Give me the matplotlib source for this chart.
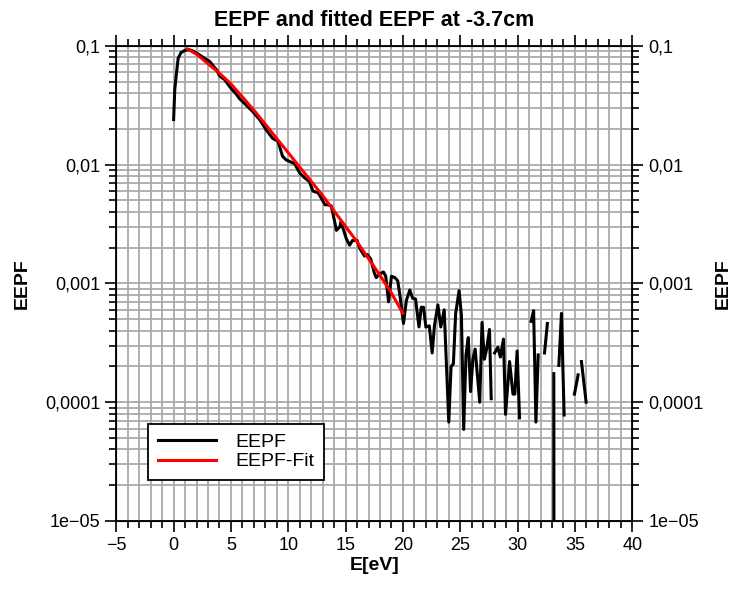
import numpy as np
import matplotlib
matplotlib.use("Agg")
import matplotlib.pyplot as plt
from matplotlib.ticker import MultipleLocator, LogLocator, FixedLocator, FixedFormatter

plt.rcParams['font.family'] = ['Liberation Sans', 'DejaVu Sans']

# measured EEPF (nan = negative / missing value)
energy = [0.0, 0.1, 0.25, 0.4, 0.65, 1.0, 1.35, 1.75, 2.25, 2.75, 3.15, 3.5, 3.75, 4.0,
          4.45, 5.0, 5.4, 5.75, 6.3, 6.9, 7.5, 8.1, 8.65, 9.1, 9.5, 9.8, 10.55, 11.0,
          11.4, 11.85, 12.15, 12.6, 12.9, 13.2, 13.45, 13.75, 14.05, 14.2, 14.5, 14.6,
          15.05, 15.35, 15.6, 16.0, 16.2, 16.65, 16.9, 17.2, 17.5, 17.67, 17.95, 18.3,
          18.5, 18.75, 19.0, 19.3, 19.55, 19.75, 20.05, 20.3, 20.6, 20.85, 21.1, 21.4,
          21.6, 21.8, 22.0, 22.3, 22.55, 22.75, 23.05, 23.3, 23.6, 24.0, 24.2, 24.4,
          24.6, 24.9, 25.1, 25.3, 25.5, 25.7, 25.9, 26.1, 26.3, 26.7, 26.9, 27.1, 27.3,
          27.55, 27.7, 27.85, 28.0, 28.28, 28.5, 28.77, 28.95, 29.3, 29.6, 29.76, 29.96,
          30.17, 30.6, 31.18, 31.4, 31.6, 31.8, 32.1, 32.35, 32.6, 32.9, 33.16, 33.2,
          33.4, 33.6, 33.83, 34.06, 34.5, 34.96, 35.28, 35.42, 35.57, 35.98]
eepf = [0.024, 0.043, 0.059, 0.079, 0.088, 0.092, 0.093, 0.090, 0.084, 0.078, 0.074,
        0.067, 0.063, 0.056, 0.052, 0.044, 0.040, 0.036, 0.032, 0.028, 0.024, 0.0195,
        0.0166, 0.0158, 0.0118, 0.0110, 0.0102, 0.0085, 0.0078, 0.0072, 0.0060, 0.0058,
        0.0052, 0.0046, 0.0046, 0.0045, 0.0033, 0.0028, 0.0030, 0.0033, 0.0024, 0.0021,
        0.0023, 0.0023, 0.0020, 0.0017, 0.00175, 0.0016, 0.00123, 0.00112, 0.0012,
        0.00125, 0.00115, 0.00070, 0.00115, 0.00112, 0.00105, 0.00078, 0.00046, 0.00072,
        0.00088, 0.00075, 0.00074, 0.00043, 0.00063, 0.00063, 0.00043, 0.00044, 0.00026,
        0.00044, 0.00066, 0.00043, 0.00060, 0.000068, 0.00020, 0.00021, 0.00056, 0.00087,
        0.00054, 0.000059, 0.00025, 0.00035, 0.000123, 0.00023, 0.00028, 0.00010, 0.00047,
        0.00023, 0.00028, 0.00041, 0.000107, np.nan, 0.00026, 0.00029, 0.00024, 0.00034,
        0.000079, 0.00022, 0.000117, 0.000117, 0.00027, 0.000074, np.nan, 0.00048, 0.00059,
        0.000068, 0.00025, np.nan, 0.00026, 0.00046, np.nan, 0.000174, 1e-9, np.nan,
        0.000204, 0.00056, 0.000078, np.nan, 0.000117, 0.00017, np.nan, 0.00022, 0.000100]

# fitted EEPF
fit_energy = [1.2, 2, 3, 4, 5, 6, 7, 8, 9, 10, 11, 12, 13, 14, 15, 16, 17, 18, 19, 20]
fit_eepf = [0.0944, 0.0851, 0.0708, 0.0589, 0.0479, 0.0372, 0.0288, 0.0219, 0.0166,
            0.0126, 0.00955, 0.00724, 0.00550, 0.00407, 0.00302, 0.00224, 0.00162,
            0.00117, 0.00083, 0.00056]

ytick_vals = [1e-5, 1e-4, 1e-3, 1e-2, 1e-1]
ytick_labels = ['1e\u221205', '0,0001', '0,001', '0,01', '0,1']

fig = plt.figure(figsize=(7.36, 5.89), dpi=100)
ax = fig.add_axes([0.158, 0.1155, 0.701, 0.8065])

ax.plot(energy, eepf, color='black', lw=2.2, label='EEPF')
ax.plot(fit_energy, fit_eepf, color='#ff0000', lw=2.2, label='EEPF-Fit')

ax.set_yscale('log')
ax.set_xlim(-5, 40)
ax.set_ylim(1e-5, 0.1)
ax.xaxis.set_major_locator(MultipleLocator(5))
ax.xaxis.set_minor_locator(MultipleLocator(1))
ax.yaxis.set_major_locator(FixedLocator(ytick_vals))
ax.yaxis.set_major_formatter(FixedFormatter(ytick_labels))
ax.yaxis.set_minor_locator(LogLocator(base=10, subs=np.arange(2, 10)))
ax.yaxis.set_minor_formatter(FixedFormatter([]))

ax.grid(which='both', color='#aaaaaa', lw=1.3)
ax.set_axisbelow(True)
for s in ax.spines.values():
    s.set_linewidth(1.3)
ax.tick_params(which='both', direction='out', top=True, right=True, labelsize=13,
               width=1.2)
ax.tick_params(which='major', length=8)
ax.tick_params(which='minor', length=5)

ax2 = ax.twinx()
ax2.set_yscale('log')
ax2.set_ylim(1e-5, 0.1)
ax2.yaxis.set_major_locator(FixedLocator(ytick_vals))
ax2.yaxis.set_major_formatter(FixedFormatter(ytick_labels))
ax2.yaxis.set_minor_locator(LogLocator(base=10, subs=np.arange(2, 10)))
ax2.yaxis.set_minor_formatter(FixedFormatter([]))
ax2.tick_params(which='both', direction='out', labelsize=13, width=1.2)
ax2.tick_params(which='major', length=8)
ax2.tick_params(which='minor', length=5)
ax2.set_ylabel('EEPF', fontsize=14, fontweight='bold', labelpad=8)

ax.set_xlabel('E[eV]', fontsize=14, fontweight='bold', labelpad=2)
ax.set_ylabel('EEPF', fontsize=14, fontweight='bold', labelpad=10)
ax.set_title('EEPF and fitted EEPF at -3.7cm', fontsize=15.5, fontweight='bold', pad=14)

leg = ax.legend(loc='lower left', bbox_to_anchor=(0.062, 0.086), borderaxespad=0,
                fancybox=False, framealpha=1, edgecolor='black', fontsize=14,
                handlelength=3.0, handletextpad=1.0, borderpad=0.5, labelspacing=0.1)
leg.get_frame().set_linewidth(1.3)

fig.savefig('out.png', dpi=100)
